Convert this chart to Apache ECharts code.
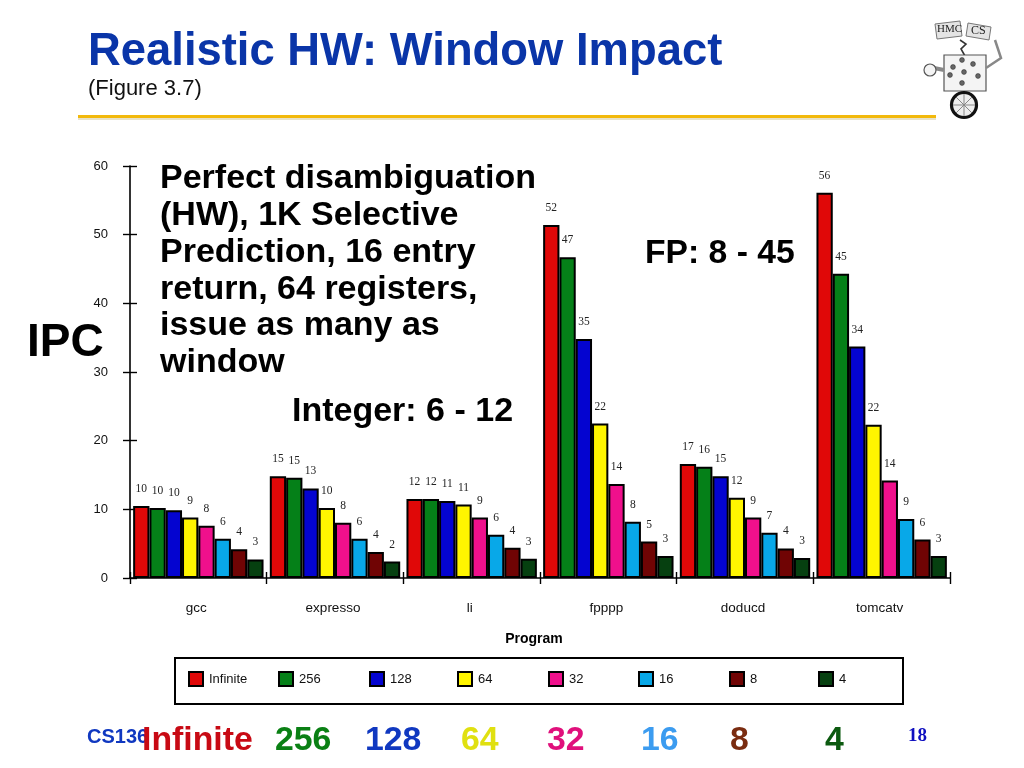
<!DOCTYPE html>
<html><head><meta charset="utf-8">
<style>html,body{margin:0;padding:0;background:#fff}#c{width:1024px;height:768px}</style>
<script src="https://cdn.jsdelivr.net/npm/echarts@6/dist/echarts.min.js"></script>
</head><body><div id="c"></div>
<script>
const programs = ['gcc','expresso','li','fpppp','doducd','tomcatv'];
const windowNames = ['Infinite','256','128','64','32','16','8','4'];
const tickLabelsY = [0,10,20,30,40,50,60];
const vInfinite = [10.5,14.8,11.5,51.4,16.6,56.1];
const v256 = [10.2,14.6,11.5,46.7,16.2,44.3];
const v128 = [9.85,13.05,11.2,34.8,14.8,33.7];
const v64 = [8.8,10.2,10.7,22.5,11.7,22.3];
const v32 = [7.6,8.05,8.8,13.7,8.8,14.2];
const v16 = [5.7,5.7,6.3,8.2,6.6,8.6];
const v8 = [4.2,3.8,4.4,5.3,4.3,5.6];
const v4 = [2.7,2.4,2.8,3.2,2.9,3.2];
const lInfinite = [10,15,12,52,17,56];
const l256 = [10,15,12,47,16,45];
const l128 = [10,13,11,35,15,34];
const l64 = [9,10,11,22,12,22];
const l32 = [8,8,9,14,9,14];
const l16 = [6,6,6,8,7,9];
const l8 = [4,4,4,5,4,6];
const l4 = [3,2,3,3,3,3];
const barColors = ['#E00808','#058018','#0404D0','#FFF500','#F0108C','#08A8E8','#700404','#064010'];
const headColors = ['#C80A14','#0A8014','#1038C0','#E0E010','#E0107C','#3C9CF0','#7A2C10','#0C5A10'];
const values = [vInfinite,v256,v128,v64,v32,v16,v8,v4];
const labels = [lInfinite,l256,l128,l64,l32,l16,l8,l4];
const noteLines = ['Perfect disambiguation','(HW), 1K Selective','Prediction, 16 entry','return, 64 registers,','issue as many as','window'];
const SANS = 'Liberation Sans', SERIF = 'Liberation Serif';

const chart = echarts.init(document.getElementById('c'), null, {renderer:'canvas'});
const txt = (x,y,t,size,fill,weight) => ({type:'text',x,y,z:50,silent:true,
  style:{text:t,fontFamily:SANS,fontSize:size,fontWeight:weight||'normal',fill:fill||'#000',verticalAlign:'middle'}});
const axisLine = {show:true,onZero:false,lineStyle:{color:'#000',width:1.6}};
const tickSt = {color:'#000',width:1.4};
const g = [
  txt(88,52,'Realistic HW: Window Impact',45.4,'#0A35A8','bold'),
  txt(88,89,'(Figure 3.7)',22,'#111'),
  {type:'rect',z:40,shape:{x:78,y:115,width:858,height:3},style:{fill:'#F2B90C'}},
  {type:'rect',z:39,shape:{x:78,y:118,width:858,height:2},style:{fill:'#E8E2C8'}},
  txt(27,343,'IPC',46,'#000','bold'),
  txt(292,412,'Integer: 6 - 12',34,'#000','bold'),
  txt(645,254,'FP: 8 - 45',33.7,'#000','bold'),
  txt(87,737,'CS136',20,'#1038C0','bold'),
  {type:'text',x:908,y:736,z:50,style:{text:'18',fontFamily:SERIF,fontSize:19,fontWeight:'bold',fill:'#1010C0',verticalAlign:'middle'}},
  {type:'rect',z:5,shape:{x:175,y:658,width:728,height:46},style:{fill:'none',stroke:'#000',lineWidth:2}},
];
noteLines.forEach((t,i)=>g.push(txt(160,178.5+i*36.9,t,34,'#000','bold')));
const headX = [142,275,365,461,547,641,730,825];
windowNames.forEach((t,i)=>g.push(txt(headX[i],741,t,33.8,headColors[i],'bold')));
// logo
const gs = {stroke:'#555',lineWidth:1.2,fill:'#f4f4f4'};
g.push(
  {type:'polygon',z:45,shape:{points:[[935,24],[960,21],[962,36],[937,39]]},style:{stroke:'#777',lineWidth:1,fill:'#e4e4e4'}},
  {type:'polygon',z:45,shape:{points:[[968,23],[991,27],[989,40],[966,36]]},style:{stroke:'#777',lineWidth:1,fill:'#e4e4e4'}},
  {type:'text',x:937,y:24,z:46,style:{text:'HMC',fontFamily:SERIF,fontSize:11,fill:'#222'}},
  {type:'text',x:971,y:25,z:46,style:{text:'CS',fontFamily:SERIF,fontSize:12,fill:'#222'}},
  {type:'polyline',z:45,shape:{points:[[960,40],[966,44],[961,49],[965,56]]},style:{stroke:'#333',lineWidth:1.6,fill:'none'}},
  {type:'rect',z:45,shape:{x:944,y:55,width:42,height:36},style:gs},
  {type:'polyline',z:45,shape:{points:[[944,70],[934,68]]},style:{stroke:'#888',lineWidth:4,fill:'none'}},
  {type:'circle',z:45,shape:{cx:930,cy:70,r:6},style:gs},
  {type:'polyline',z:45,shape:{points:[[986,68],[1001,58],[995,40]]},style:{stroke:'#888',lineWidth:2.5,fill:'none'}},
  {type:'circle',z:46,shape:{cx:964,cy:105,r:12.5},style:{stroke:'#111',lineWidth:3.2,fill:'#eee'}},
  {type:'line',z:47,shape:{x1:964,y1:94,x2:964,y2:116},style:{stroke:'#888',lineWidth:1}},
  {type:'line',z:47,shape:{x1:953,y1:105,x2:975,y2:105},style:{stroke:'#888',lineWidth:1}},
  {type:'line',z:47,shape:{x1:956,y1:97,x2:972,y2:113},style:{stroke:'#888',lineWidth:1}},
  {type:'line',z:47,shape:{x1:972,y1:97,x2:956,y2:113},style:{stroke:'#888',lineWidth:1}},
  {type:'line',z:45,shape:{x1:964,y1:91,x2:964,y2:94},style:{stroke:'#333',lineWidth:2}}
);
[[962,60],[953,67],[973,64],[950,75],[978,76],[962,83],[964,72]].forEach(p=>g.push(
  {type:'circle',z:46,shape:{cx:p[0],cy:p[1],r:2.4},style:{fill:'#666',stroke:'#333',lineWidth:.6}}));

const legendX = [188,278,369,457,548,638,729,818];
chart.setOption({
  animation:false,
  backgroundColor:'#fff',
  grid:{left:130,right:74,top:166,bottom:190,containLabel:false},
  legend:windowNames.map((n,i)=>({
    left:legendX[i],top:671,padding:0,
    data:[n],
    itemWidth:14,itemHeight:14,
    icon:'rect',
    selectedMode:false,
    textStyle:{color:'#111',fontFamily:SANS,fontSize:13,padding:[6,0,0,1]},
  })),
  xAxis:[
    {type:'category',data:programs,position:'bottom',axisLine,
     axisTick:{show:true,length:6,lineStyle:tickSt},splitLine:{show:false},
     axisLabel:{color:'#111',fontFamily:SANS,fontSize:13.5,margin:23,padding:[0,4,0,0]},
     name:'Program',nameLocation:'middle',nameGap:54,
     nameTextStyle:{color:'#000',fontFamily:SANS,fontSize:14,fontWeight:'bold',padding:[0,12,0,0]}},
    {type:'category',data:programs,position:'bottom',axisLine:{show:false},
     axisTick:{show:true,inside:true,length:6,lineStyle:tickSt},axisLabel:{show:false},splitLine:{show:false}}
  ],
  yAxis:[
    {type:'value',min:0,max:60,interval:10,position:'left',axisLine,
     axisTick:{show:true,length:7,lineStyle:tickSt},splitLine:{show:false},
     axisLabel:{color:'#111',fontFamily:SANS,fontSize:13,margin:22,
       formatter:v=>tickLabelsY.includes(v)?String(v):''}},
    {type:'value',min:0,max:60,interval:10,position:'left',axisLine:{show:false},
     axisTick:{show:true,inside:true,length:7,lineStyle:tickSt},axisLabel:{show:false},splitLine:{show:false}}
  ],
  series:windowNames.map((n,i)=>({
    name:n,type:'bar',data:values[i],barWidth:16.3,barGap:'0%',
    itemStyle:{color:barColors[i],borderColor:'#000',borderWidth:2},
    label:{show:true,position:'top',distance:11,color:'#222',fontFamily:SERIF,fontSize:11.5,
      formatter:p=>String(labels[i][p.dataIndex])}
  })),
  graphic:g
});
</script></body></html>
